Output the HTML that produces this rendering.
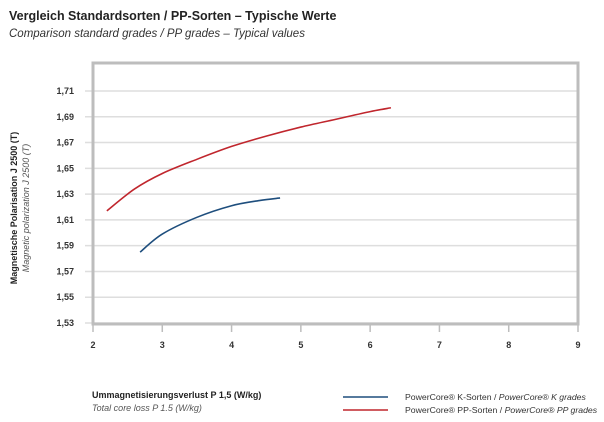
<!DOCTYPE html>
<html><head><meta charset="utf-8"><style>
body{margin:0;background:#fff;font-family:"Liberation Sans",sans-serif;}
svg text{font-family:"Liberation Sans",sans-serif;}
</style></head><body>
<svg id="chart" width="604" height="417" viewBox="0 0 604 417" xmlns="http://www.w3.org/2000/svg">
<text x="9" y="20" font-size="12.5" font-weight="bold" fill="#222">Vergleich Standardsorten / PP-Sorten – Typische Werte</text>
<text x="9" y="37" font-size="11.5" font-style="italic" fill="#333">Comparison standard grades / PP grades – Typical values</text>
<g id="grid"></g>
<rect x="93" y="63" width="485" height="261" fill="none" stroke="#bdbdbd" stroke-width="3"/>
<g id="xticks"></g>
<g id="yticks"></g>
<g id="series"></g>
<text transform="translate(17,208) rotate(-90)" text-anchor="middle" font-size="9" font-weight="bold" fill="#222">Magnetische Polarisation J 2500 (T)</text>
<text transform="translate(29,208) rotate(-90)" text-anchor="middle" font-size="9" font-style="italic" fill="#555">Magnetic polarization J 2500 (T)</text>
<text x="92" y="398" font-size="9" font-weight="bold" fill="#222">Ummagnetisierungsverlust P 1,5 (W/kg)</text>
<text x="92" y="411" font-size="9" font-style="italic" fill="#555">Total core loss P 1.5 (W/kg)</text>
<g>
<line x1="343" y1="397" x2="388" y2="397" stroke="#1e4e7d" stroke-width="1.6"/>
<text x="405" y="400" font-size="8.7" fill="#333">PowerCore® K-Sorten / <tspan font-style="italic">PowerCore® K grades</tspan></text>
</g>
<g>
<line x1="343" y1="410" x2="388" y2="410" stroke="#c0262d" stroke-width="1.6"/>
<text x="405" y="413" font-size="8.7" fill="#333">PowerCore® PP-Sorten / <tspan font-style="italic">PowerCore® PP grades</tspan></text>
</g>
</svg>
<script>
const xTicks=[2,3,4,5,6,7,8,9];
const yTicks=[1.53,1.55,1.57,1.59,1.61,1.63,1.65,1.67,1.69,1.71];
const yTickLabels=["1,53","1,55","1,57","1,59","1,61","1,63","1,65","1,67","1,69","1,71"];
const kX=[2.68,3.0,3.5,4.0,4.4,4.7];
const kY=[1.585,1.599,1.612,1.621,1.625,1.627];
const ppX=[2.2,2.6,3.0,3.5,4.0,4.5,5.0,5.5,6.0,6.3];
const ppY=[1.617,1.634,1.646,1.657,1.667,1.675,1.682,1.688,1.694,1.697];
const NS="http://www.w3.org/2000/svg";
const xs=v=>93+(v-2)*(485/7);
const ys=v=>323-(v-1.53)*(232/0.18);
function mk(t,a,p){const e=document.createElementNS(NS,t);for(const k in a)e.setAttribute(k,a[k]);p.appendChild(e);return e;}
const grid=document.getElementById('grid'),yt=document.getElementById('yticks'),xt=document.getElementById('xticks'),se=document.getElementById('series');
yTicks.forEach((v,i)=>{
 const l=mk('line',{x1:85,x2:578,y1:ys(v),y2:ys(v),stroke:'#dedede','stroke-width':1.5},grid);
 
 
 const t=mk('text',{x:74,y:ys(v)+3,'text-anchor':'end','font-size':9,'font-weight':'bold',fill:'#333'},yt);
 t.textContent=yTickLabels[i];
 
 
});
xTicks.forEach(v=>{
 const l=mk('line',{x1:xs(v),x2:xs(v),y1:324,y2:332,stroke:'#bdbdbd','stroke-width':1.5},xt);
 
 
 const t=mk('text',{x:xs(v),y:348,'text-anchor':'middle','font-size':9,'font-weight':'bold',fill:'#333'},xt);
 t.textContent=v;
 
 
});
function path(X,Y){
 const p=X.map((x,i)=>[xs(x),ys(Y[i])]);
 let d='M'+p[0][0]+','+p[0][1];
 for(let i=0;i<p.length-1;i++){
  const p0=p[i-1]||p[i],p1=p[i],p2=p[i+1],p3=p[i+2]||p2;
  d+=' C'+(p1[0]+(p2[0]-p0[0])/6)+','+(p1[1]+(p2[1]-p0[1])/6)+' '+(p2[0]-(p3[0]-p1[0])/6)+','+(p2[1]-(p3[1]-p1[1])/6)+' '+p2[0]+','+p2[1];
 }
 return d;
}
const a=mk('path',{d:path(ppX,ppY),fill:'none',stroke:'#c0262d','stroke-width':1.6},se);


const b=mk('path',{d:path(kX,kY),fill:'none',stroke:'#1e4e7d','stroke-width':1.6},se);


</script>
</body></html>
